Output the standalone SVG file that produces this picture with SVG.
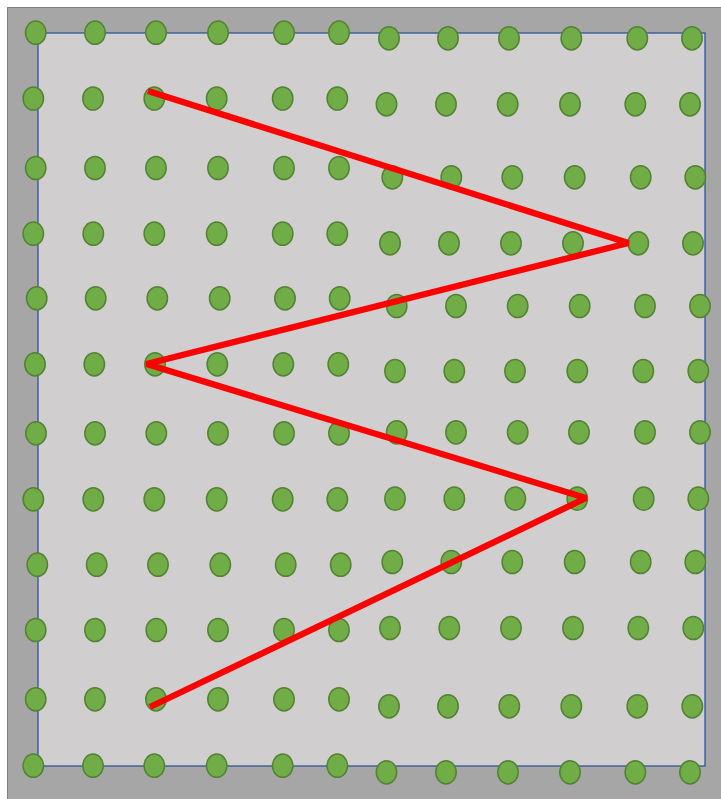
<svg xmlns="http://www.w3.org/2000/svg" width="721" height="799" viewBox="0 0 721 799">
<style>
.d{fill:#70ad47;stroke:#548235;stroke-width:1.5}
.path{fill:none;stroke:#ff0000;stroke-width:6.3;stroke-linejoin:bevel;stroke-linecap:butt}
</style>
<rect x="0" y="0" width="721" height="799" fill="#ffffff"/>
<rect id="frame" x="7.5" y="7.5" width="714" height="792" fill="#a6a6a6" stroke="#808080" stroke-width="1"/>
<rect id="plot" x="38" y="33" width="667" height="733" fill="#d0cece" stroke="#2f5597" stroke-width="1.3"/>
<g id="dots">
<g id="row1">
<ellipse class="d" cx="35.7" cy="32.7" rx="10.2" ry="11.6"/><ellipse class="d" cx="95" cy="32.7" rx="10.2" ry="11.6"/><ellipse class="d" cx="156" cy="32.7" rx="10.2" ry="11.6"/><ellipse class="d" cx="218" cy="32.7" rx="10.2" ry="11.6"/><ellipse class="d" cx="284" cy="32.7" rx="10.2" ry="11.6"/><ellipse class="d" cx="339" cy="32.7" rx="10.2" ry="11.6"/>
<ellipse class="d" cx="389" cy="38.3" rx="10.2" ry="11.6"/><ellipse class="d" cx="448" cy="38.3" rx="10.2" ry="11.6"/><ellipse class="d" cx="509" cy="38.3" rx="10.2" ry="11.6"/><ellipse class="d" cx="571.3" cy="38.3" rx="10.2" ry="11.6"/><ellipse class="d" cx="637.3" cy="38.3" rx="10.2" ry="11.6"/><ellipse class="d" cx="692" cy="38.3" rx="10.2" ry="11.6"/>
</g>
<g id="row2">
<ellipse class="d" cx="33.3" cy="98.5" rx="10.2" ry="11.6"/><ellipse class="d" cx="93" cy="98.5" rx="10.2" ry="11.6"/><ellipse class="d" cx="154.3" cy="98.5" rx="10.2" ry="11.6"/><ellipse class="d" cx="216.7" cy="98.5" rx="10.2" ry="11.6"/><ellipse class="d" cx="282.7" cy="98.5" rx="10.2" ry="11.6"/><ellipse class="d" cx="337.3" cy="98.5" rx="10.2" ry="11.6"/>
<ellipse class="d" cx="386.5" cy="104.3" rx="10.2" ry="11.6"/><ellipse class="d" cx="446" cy="104.3" rx="10.2" ry="11.6"/><ellipse class="d" cx="507.7" cy="104.3" rx="10.2" ry="11.6"/><ellipse class="d" cx="570" cy="104.3" rx="10.2" ry="11.6"/><ellipse class="d" cx="635.3" cy="104.3" rx="10.2" ry="11.6"/><ellipse class="d" cx="690" cy="104.3" rx="10.2" ry="11.6"/>
</g>
<g id="row3">
<ellipse class="d" cx="35.7" cy="168" rx="10.2" ry="11.6"/><ellipse class="d" cx="95" cy="168" rx="10.2" ry="11.6"/><ellipse class="d" cx="156" cy="168" rx="10.2" ry="11.6"/><ellipse class="d" cx="218" cy="168" rx="10.2" ry="11.6"/><ellipse class="d" cx="284" cy="168" rx="10.2" ry="11.6"/><ellipse class="d" cx="339" cy="168" rx="10.2" ry="11.6"/>
<ellipse class="d" cx="392.3" cy="177.3" rx="10.2" ry="11.6"/><ellipse class="d" cx="451.3" cy="177.3" rx="10.2" ry="11.6"/><ellipse class="d" cx="512.3" cy="177.3" rx="10.2" ry="11.6"/><ellipse class="d" cx="574.7" cy="177.3" rx="10.2" ry="11.6"/><ellipse class="d" cx="640.7" cy="177.3" rx="10.2" ry="11.6"/><ellipse class="d" cx="695.3" cy="177.3" rx="10.2" ry="11.6"/>
</g>
<g id="row4">
<ellipse class="d" cx="33.3" cy="233.7" rx="10.2" ry="11.6"/><ellipse class="d" cx="93.3" cy="233.7" rx="10.2" ry="11.6"/><ellipse class="d" cx="154.3" cy="233.7" rx="10.2" ry="11.6"/><ellipse class="d" cx="216.7" cy="233.7" rx="10.2" ry="11.6"/><ellipse class="d" cx="282.7" cy="233.7" rx="10.2" ry="11.6"/><ellipse class="d" cx="337.3" cy="233.7" rx="10.2" ry="11.6"/>
<ellipse class="d" cx="390" cy="243.3" rx="10.2" ry="11.6"/><ellipse class="d" cx="449" cy="243.3" rx="10.2" ry="11.6"/><ellipse class="d" cx="511" cy="243.3" rx="10.2" ry="11.6"/><ellipse class="d" cx="573" cy="243.3" rx="10.2" ry="11.6"/><ellipse class="d" cx="638.3" cy="243.3" rx="10.2" ry="11.6"/><ellipse class="d" cx="693" cy="243.3" rx="10.2" ry="11.6"/>
</g>
<g id="row5">
<ellipse class="d" cx="36.7" cy="298.3" rx="10.2" ry="11.6"/><ellipse class="d" cx="95.7" cy="298.3" rx="10.2" ry="11.6"/><ellipse class="d" cx="157.3" cy="298.3" rx="10.2" ry="11.6"/><ellipse class="d" cx="219.7" cy="298.3" rx="10.2" ry="11.6"/><ellipse class="d" cx="285" cy="298.3" rx="10.2" ry="11.6"/><ellipse class="d" cx="339.7" cy="298.3" rx="10.2" ry="11.6"/>
<ellipse class="d" cx="396.7" cy="306" rx="10.2" ry="11.6"/><ellipse class="d" cx="456" cy="306" rx="10.2" ry="11.6"/><ellipse class="d" cx="517.7" cy="306" rx="10.2" ry="11.6"/><ellipse class="d" cx="579.7" cy="306" rx="10.2" ry="11.6"/><ellipse class="d" cx="645" cy="306" rx="10.2" ry="11.6"/><ellipse class="d" cx="700" cy="306" rx="10.2" ry="11.6"/>
</g>
<g id="row6">
<ellipse class="d" cx="35" cy="364.3" rx="10.2" ry="11.6"/><ellipse class="d" cx="94.3" cy="364.3" rx="10.2" ry="11.6"/><ellipse class="d" cx="155" cy="364.3" rx="10.2" ry="11.6"/><ellipse class="d" cx="217.3" cy="364.3" rx="10.2" ry="11.6"/><ellipse class="d" cx="283.3" cy="364.3" rx="10.2" ry="11.6"/><ellipse class="d" cx="338.3" cy="364.3" rx="10.2" ry="11.6"/>
<ellipse class="d" cx="395" cy="371" rx="10.2" ry="11.6"/><ellipse class="d" cx="454.3" cy="371" rx="10.2" ry="11.6"/><ellipse class="d" cx="515" cy="371" rx="10.2" ry="11.6"/><ellipse class="d" cx="577.3" cy="371" rx="10.2" ry="11.6"/><ellipse class="d" cx="643.3" cy="371" rx="10.2" ry="11.6"/><ellipse class="d" cx="698.3" cy="371" rx="10.2" ry="11.6"/>
</g>
<g id="row7">
<ellipse class="d" cx="36" cy="433.3" rx="10.2" ry="11.6"/><ellipse class="d" cx="95" cy="433.3" rx="10.2" ry="11.6"/><ellipse class="d" cx="156.3" cy="433.3" rx="10.2" ry="11.6"/><ellipse class="d" cx="218" cy="433.3" rx="10.2" ry="11.6"/><ellipse class="d" cx="284" cy="433.3" rx="10.2" ry="11.6"/><ellipse class="d" cx="339" cy="433.3" rx="10.2" ry="11.6"/>
<ellipse class="d" cx="396.7" cy="432.3" rx="10.2" ry="11.6"/><ellipse class="d" cx="456" cy="432.3" rx="10.2" ry="11.6"/><ellipse class="d" cx="517.7" cy="432.3" rx="10.2" ry="11.6"/><ellipse class="d" cx="579" cy="432.3" rx="10.2" ry="11.6"/><ellipse class="d" cx="645" cy="432.3" rx="10.2" ry="11.6"/><ellipse class="d" cx="700" cy="432.3" rx="10.2" ry="11.6"/>
</g>
<g id="row8">
<ellipse class="d" cx="33.3" cy="499.3" rx="10.2" ry="11.6"/><ellipse class="d" cx="93.3" cy="499.3" rx="10.2" ry="11.6"/><ellipse class="d" cx="154.3" cy="499.3" rx="10.2" ry="11.6"/><ellipse class="d" cx="216.7" cy="499.3" rx="10.2" ry="11.6"/><ellipse class="d" cx="282.7" cy="499.3" rx="10.2" ry="11.6"/><ellipse class="d" cx="337.3" cy="499.3" rx="10.2" ry="11.6"/>
<ellipse class="d" cx="395" cy="498.7" rx="10.2" ry="11.6"/><ellipse class="d" cx="454.3" cy="498.7" rx="10.2" ry="11.6"/><ellipse class="d" cx="515.3" cy="498.7" rx="10.2" ry="11.6"/><ellipse class="d" cx="577.3" cy="498.7" rx="10.2" ry="11.6"/><ellipse class="d" cx="643.7" cy="498.7" rx="10.2" ry="11.6"/><ellipse class="d" cx="698.3" cy="498.7" rx="10.2" ry="11.6"/>
</g>
<g id="row9">
<ellipse class="d" cx="37.3" cy="564.7" rx="10.2" ry="11.6"/><ellipse class="d" cx="96.7" cy="564.7" rx="10.2" ry="11.6"/><ellipse class="d" cx="158" cy="564.7" rx="10.2" ry="11.6"/><ellipse class="d" cx="220.3" cy="564.7" rx="10.2" ry="11.6"/><ellipse class="d" cx="285.7" cy="564.7" rx="10.2" ry="11.6"/><ellipse class="d" cx="340.7" cy="564.7" rx="10.2" ry="11.6"/>
<ellipse class="d" cx="392.3" cy="562" rx="10.2" ry="11.6"/><ellipse class="d" cx="451.3" cy="562" rx="10.2" ry="11.6"/><ellipse class="d" cx="512.3" cy="562" rx="10.2" ry="11.6"/><ellipse class="d" cx="574.7" cy="562" rx="10.2" ry="11.6"/><ellipse class="d" cx="640.7" cy="562" rx="10.2" ry="11.6"/><ellipse class="d" cx="695.3" cy="562" rx="10.2" ry="11.6"/>
</g>
<g id="row10">
<ellipse class="d" cx="35.7" cy="630" rx="10.2" ry="11.6"/><ellipse class="d" cx="95" cy="630" rx="10.2" ry="11.6"/><ellipse class="d" cx="156.3" cy="630" rx="10.2" ry="11.6"/><ellipse class="d" cx="218" cy="630" rx="10.2" ry="11.6"/><ellipse class="d" cx="284" cy="630" rx="10.2" ry="11.6"/><ellipse class="d" cx="339" cy="630" rx="10.2" ry="11.6"/>
<ellipse class="d" cx="390" cy="628" rx="10.2" ry="11.6"/><ellipse class="d" cx="449.3" cy="628" rx="10.2" ry="11.6"/><ellipse class="d" cx="511" cy="628" rx="10.2" ry="11.6"/><ellipse class="d" cx="573" cy="628" rx="10.2" ry="11.6"/><ellipse class="d" cx="638.3" cy="628" rx="10.2" ry="11.6"/><ellipse class="d" cx="693.3" cy="628" rx="10.2" ry="11.6"/>
</g>
<g id="row11">
<ellipse class="d" cx="35.7" cy="699.3" rx="10.2" ry="11.6"/><ellipse class="d" cx="95" cy="699.3" rx="10.2" ry="11.6"/><ellipse class="d" cx="156" cy="699.3" rx="10.2" ry="11.6"/><ellipse class="d" cx="218" cy="699.3" rx="10.2" ry="11.6"/><ellipse class="d" cx="284" cy="699.3" rx="10.2" ry="11.6"/><ellipse class="d" cx="339" cy="699.3" rx="10.2" ry="11.6"/>
<ellipse class="d" cx="389" cy="706.3" rx="10.2" ry="11.6"/><ellipse class="d" cx="448" cy="706.3" rx="10.2" ry="11.6"/><ellipse class="d" cx="509.3" cy="706.3" rx="10.2" ry="11.6"/><ellipse class="d" cx="571.3" cy="706.3" rx="10.2" ry="11.6"/><ellipse class="d" cx="637.3" cy="706.3" rx="10.2" ry="11.6"/><ellipse class="d" cx="692.3" cy="706.3" rx="10.2" ry="11.6"/>
</g>
<g id="row12">
<ellipse class="d" cx="33.3" cy="765.7" rx="10.2" ry="11.6"/><ellipse class="d" cx="93" cy="765.7" rx="10.2" ry="11.6"/><ellipse class="d" cx="154.3" cy="765.7" rx="10.2" ry="11.6"/><ellipse class="d" cx="216.7" cy="765.7" rx="10.2" ry="11.6"/><ellipse class="d" cx="282.7" cy="765.7" rx="10.2" ry="11.6"/><ellipse class="d" cx="337.3" cy="765.7" rx="10.2" ry="11.6"/>
<ellipse class="d" cx="386.5" cy="772.3" rx="10.2" ry="11.6"/><ellipse class="d" cx="446" cy="772.3" rx="10.2" ry="11.6"/><ellipse class="d" cx="508" cy="772.3" rx="10.2" ry="11.6"/><ellipse class="d" cx="570" cy="772.3" rx="10.2" ry="11.6"/><ellipse class="d" cx="635.3" cy="772.3" rx="10.2" ry="11.6"/><ellipse class="d" cx="690" cy="772.3" rx="10.2" ry="11.6"/>
</g>
</g>
<g id="connectors">
<polyline class="path" points="148,91 628.5,243 146.5,364 586,498 150,707"/>
</g>
</svg>
